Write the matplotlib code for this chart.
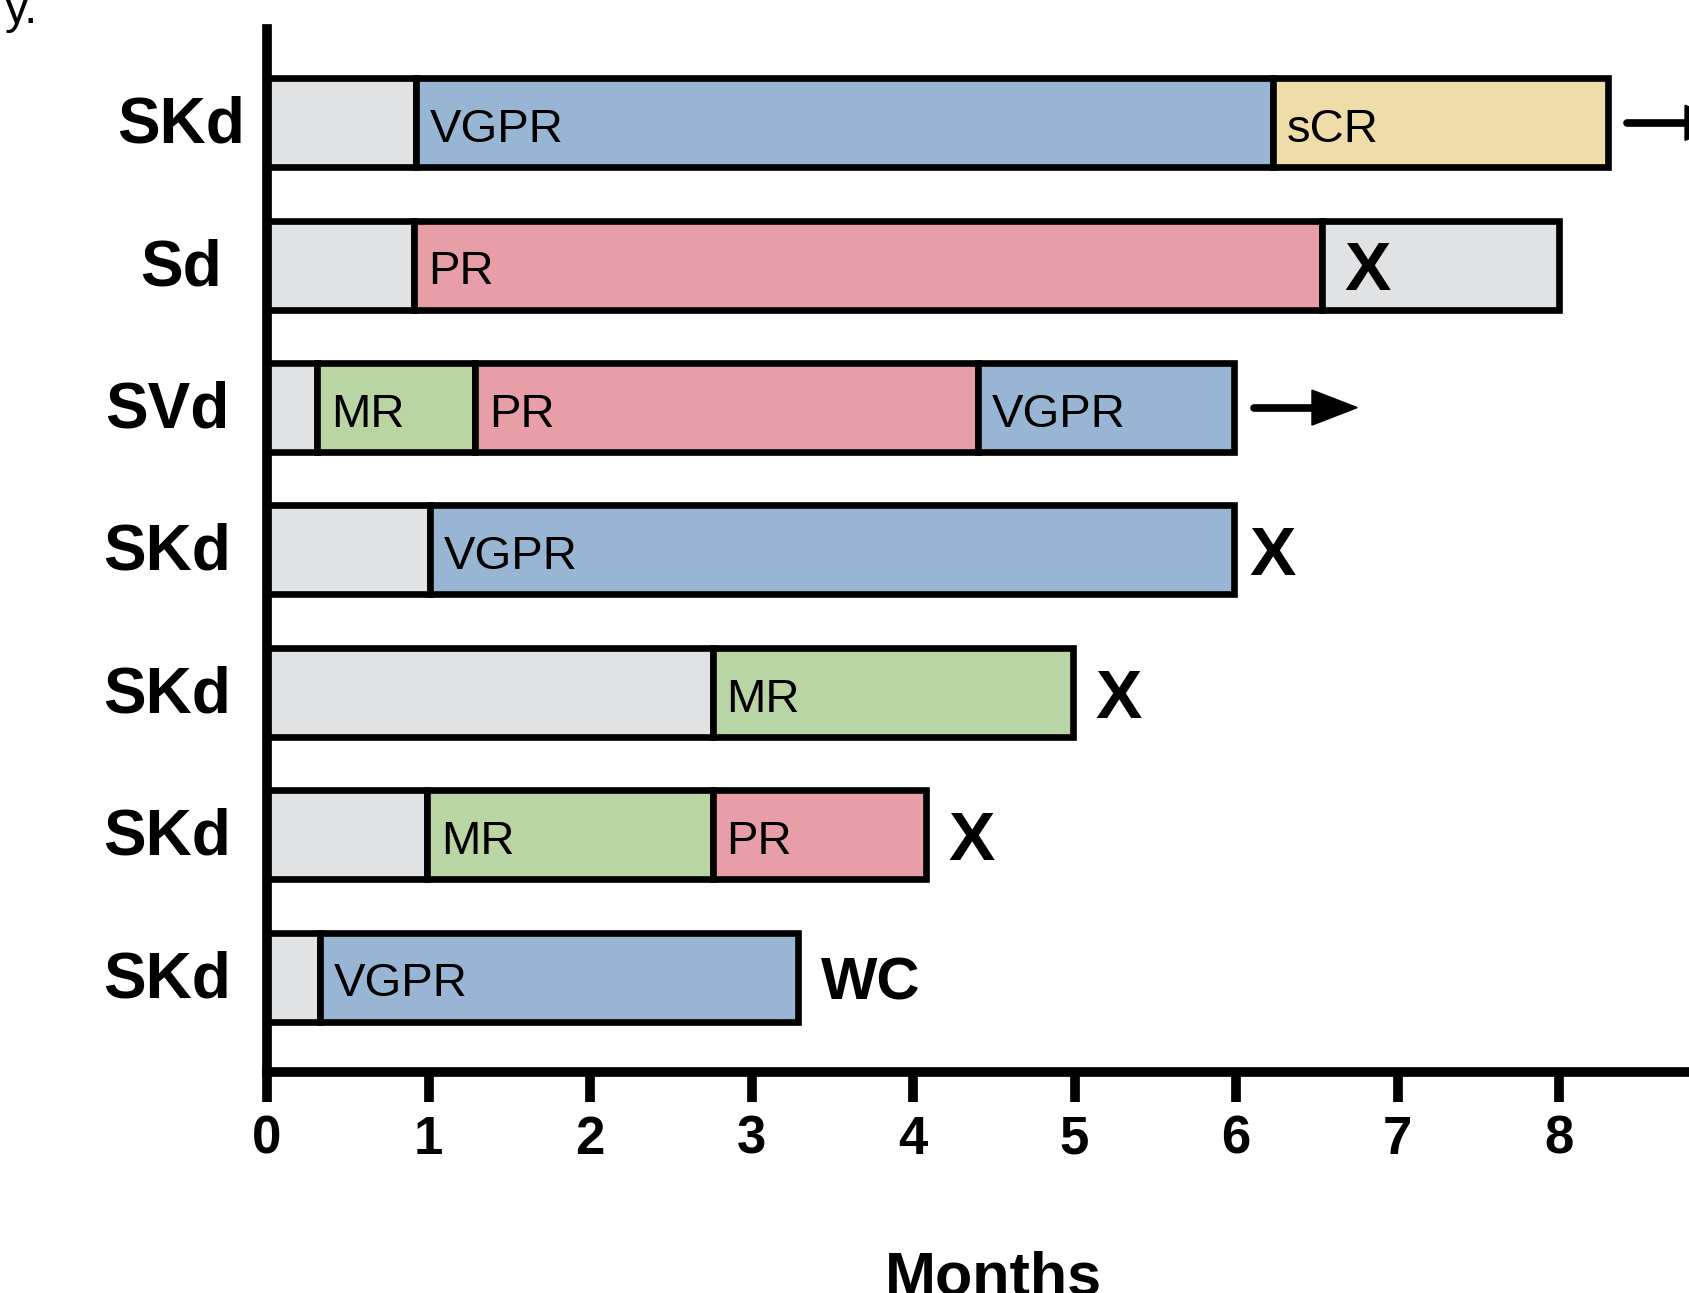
import matplotlib.pyplot as plt

plt.rcParams['font.family'] = ['Liberation Sans', 'DejaVu Sans']

# one row per patient, top to bottom
treatments = ['SKd', 'Sd', 'SVd', 'SKd', 'SKd', 'SKd', 'SKd']

# response phases: label and end time in months ('' = no response)
phase_labels = [
    ['', 'VGPR', 'sCR'],
    ['', 'PR', ''],
    ['', 'MR', 'PR', 'VGPR'],
    ['', 'VGPR'],
    ['', 'MR'],
    ['', 'MR', 'PR'],
    ['', 'VGPR'],
]
phase_ends = [
    [0.92, 6.23, 8.30],
    [0.91, 6.53, 8.00],
    [0.31, 1.29, 4.40, 5.99],
    [1.01, 5.99],
    [2.76, 4.99],
    [0.99, 2.76, 4.08],
    [0.33, 3.29],
]
outcomes = ['ongoing', 'X', 'ongoing', 'X', 'X', 'X', 'WC']
outcome_times = [8.30, 6.53, 5.99, 5.94, 4.99, 4.08, 3.29]
month_ticks = [0, 1, 2, 3, 4, 5, 6, 7, 8]

colors = {'': '#e1e2e4', 'MR': '#b9d5a3', 'PR': '#e79ea7',
          'VGPR': '#98b5d4', 'sCR': '#eedda8'}

# where the row names sit (months, left of the axis)
name_x = [-0.53, -0.53, -0.62, -0.62, -0.62, -0.62, -0.62]

fig = plt.figure(figsize=(16.89, 12.93), dpi=100)
ax = fig.add_axes([0.1581, 0.1709, 0.8606, 0.8067])

bar_h = 0.625
for row, (labels, ends) in enumerate(zip(phase_labels, phase_ends)):
    start = 0
    for lab, end in zip(labels, ends):
        ax.barh(row, end - start, left=start, height=bar_h, color=colors[lab],
                edgecolor='black', linewidth=4.8, zorder=2)
        if lab:
            ax.text(start + 0.085, row + 0.05, lab, fontsize=34, ha='left', va='center', zorder=3)
        start = end
    ax.text(name_x[row], row + 0.02, treatments[row], fontsize=46, fontweight='bold',
            ha='center', va='center')

# what happened at the end of each row
for row, (kind, t) in enumerate(zip(outcomes, outcome_times)):
    if kind == 'ongoing':
        x0 = t + 0.12
        x1 = x0 + 0.36
        tip = x1 + 0.28
        hw = 0.123
        ax.plot([x0, x1], [row, row], color='black', lw=5.5, solid_capstyle='round', zorder=3)
        ax.fill([x1, tip, x1], [row - hw, row, row + hw], color='black', zorder=3)
    else:
        ax.text(t + 0.14, row + 0.05, kind, fontsize=50 if kind == 'X' else 43,
                fontweight='bold', ha='left', va='center', zorder=3)

ax.set_xlim(0, 9)
ax.set_ylim(6.666, -0.659)
ax.set_xticks(month_ticks)
ax.set_yticks([])
ax.tick_params(axis='x', length=21.6, width=7, pad=9, labelsize=38)
for lab in ax.get_xticklabels():
    lab.set_fontweight('bold')

for side in ['top', 'right']:
    ax.spines[side].set_visible(False)
for side in ['left', 'bottom']:
    ax.spines[side].set_linewidth(7)

ax.set_xlabel('Months', fontsize=44, fontweight='bold')
ax.xaxis.set_label_coords(0.5, -0.1707)

# fragment of text from above the crop
fig.text(5 / 1689, 1 - 23 / 1293, 'y.', fontsize=34, va='baseline', ha='left')

fig.savefig('out.png', dpi=100)
